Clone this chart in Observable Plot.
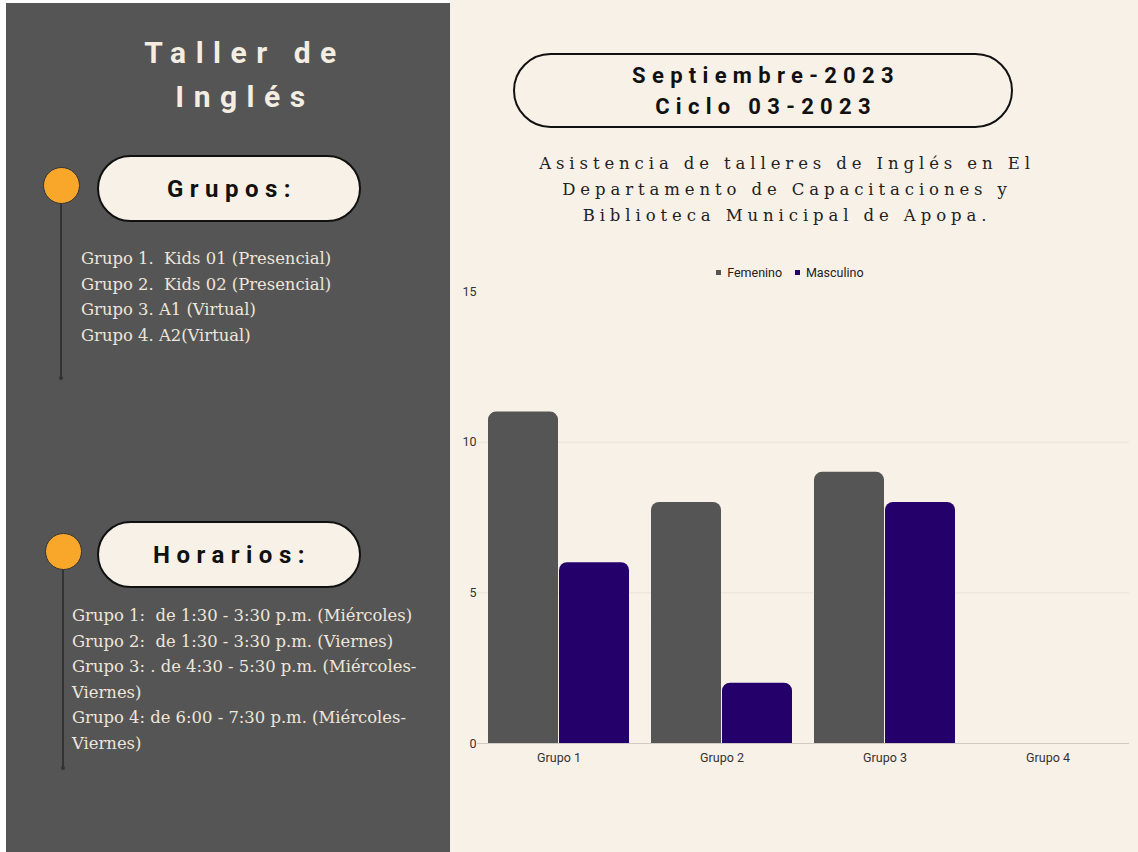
<!DOCTYPE html>
<html><head><meta charset="utf-8">
<script src="https://cdn.jsdelivr.net/npm/d3@7"></script>
<script src="https://cdn.jsdelivr.net/npm/@observablehq/plot@0.6"></script>
<style>
body{margin:0;width:1138px;height:852px;background:#fff;overflow:hidden;font-family:Roboto,sans-serif}
.abs{position:absolute}
#left{left:6px;top:3px;width:444px;height:849px;background:#555555}
#right{left:450px;top:0;width:688px;height:852px;background:#f8f1e8}
.head{color:#f4ede2;font-weight:700;font-size:30px;letter-spacing:9.5px;text-align:center;line-height:44px}
.pill{border:2px solid #111;background:#f8f1e8;box-sizing:border-box;display:flex;align-items:center;justify-content:center;font-weight:700;color:#111}
.dot{width:37px;height:37px;border-radius:50%;background:#f9a72b;border:1.5px solid #333;box-sizing:border-box}
.vline{width:2px;background:#333}
.end{width:4px;height:4px;border-radius:50%;background:#333}
.serif{font-family:"DejaVu Serif",serif;color:#eee6da;font-size:16.4px;line-height:25.5px;white-space:pre}
.sub{font-family:"DejaVu Serif",serif;color:#222;font-size:16.5px;letter-spacing:4.9px;line-height:26px;text-align:center;white-space:pre}
</style></head>
<body>
<div class="abs" id="left"></div>
<div class="abs" id="right"></div>
<div class="abs head" style="left:41px;top:31px;width:400px;padding-left:4px">Taller de<br>Inglés</div>

<div class="abs vline" style="left:60px;top:200px;height:178px"></div>
<div class="abs end" style="left:59px;top:376px"></div>
<div class="abs dot" style="left:42.5px;top:166.5px"></div>
<div class="abs pill" style="left:97px;top:155px;width:264px;height:67px;border-radius:34px;font-size:24px;letter-spacing:6.5px;padding-left:6px">Grupos:</div>
<div class="abs serif" id="grupos" style="left:81px;top:246px"></div>

<div class="abs vline" style="left:62px;top:566px;height:202px"></div>
<div class="abs end" style="left:61px;top:766px"></div>
<div class="abs dot" style="left:44.5px;top:532.5px"></div>
<div class="abs pill" style="left:97px;top:521px;width:264px;height:67px;border-radius:34px;font-size:24px;letter-spacing:6.5px;padding-left:6px">Horarios:</div>
<div class="abs serif" id="horarios" style="left:72px;top:603px"></div>

<div class="abs pill" style="left:513px;top:53px;width:500px;height:75px;border-radius:38px;font-size:22px;letter-spacing:6.3px;line-height:31px;text-align:center;padding-left:6px">Septiembre-2023<br>Ciclo 03-2023</div>
<div class="abs sub" id="subtitle" style="left:483px;top:151px;width:600px;padding-left:4px"></div>
<div class="abs" id="legend" style="left:600px;top:256px;width:392px;display:flex;justify-content:center"></div>
<div class="abs" id="chart" style="left:450px;top:260px"></div>

<script>
const grupos = ["Grupo 1", "Grupo 2", "Grupo 3", "Grupo 4"];
const sexos = ["Femenino", "Masculino"];
const femenino = [11, 8, 9, 0];
const masculino = [6, 2, 8, 0];
const yTicks = [0, 5, 10, 15];
const gridTicks = [5, 10];
const colores = ["#555555", "#24006b"];

const grupoLineas = ["Grupo 1.  Kids 01 (Presencial)", "Grupo 2.  Kids 02 (Presencial)", "Grupo 3. A1 (Virtual)", "Grupo 4. A2(Virtual)"];
const horarioLineas = ["Grupo 1:  de 1:30 - 3:30 p.m. (Miércoles)", "Grupo 2:  de 1:30 - 3:30 p.m. (Viernes)", "Grupo 3: . de 4:30 - 5:30 p.m. (Miércoles-", "Viernes)", "Grupo 4: de 6:00 - 7:30 p.m. (Miércoles-", "Viernes)"];
const subtituloLineas = ["Asistencia de talleres de Inglés en El", "Departamento de Capacitaciones y", "Biblioteca Municipal de Apopa."];

document.getElementById("grupos").textContent = grupoLineas.join("\n");
document.getElementById("horarios").textContent = horarioLineas.join("\n");
document.getElementById("subtitle").textContent = subtituloLineas.join("\n");

const data = [];
grupos.forEach((g, i) => {
  data.push({grupo: g, sexo: "Femenino", valor: femenino[i]});
  data.push({grupo: g, sexo: "Masculino", valor: masculino[i]});
});

const chart = Plot.plot({
  width: 688,
  height: 530,
  marginTop: 31,
  marginBottom: 47,
  marginLeft: 26,
  marginRight: 8,
  style: {background: "transparent", fontFamily: "Roboto", fontSize: "12.5px", color: "#333"},
  fx: {domain: grupos, padding: 0, axis: "bottom", tickSize: 0, tickPadding: 10, label: null},
  x: {domain: sexos, axis: null, paddingInner: 0.02, paddingOuter: 0.155},
  y: {domain: [0, 15], ticks: yTicks, tickSize: 0, tickPadding: 1, label: null},
  color: {domain: sexos, range: colores},
  marks: [
    Plot.ruleY(gridTicks, {stroke: "#e9e3da", strokeWidth: 1}),
    Plot.barY(data, {fx: "grupo", x: "sexo", y: "valor", fill: "sexo", rx: 8}),
    Plot.barY(data, {fx: "grupo", x: "sexo", y1: 0, y2: d => d.valor / 2, fill: "sexo"}),
    Plot.ruleY([0], {stroke: "#cfcac3", strokeWidth: 1})
  ]
});
document.getElementById("chart").appendChild(chart);

const legend = Plot.legend({
  color: {domain: sexos, range: colores},
  swatchSize: 5,
  style: {fontFamily: "Roboto", fontSize: "12.5px", color: "#222", background: "transparent"}
});
document.getElementById("legend").appendChild(legend);
</script>
</body></html>
